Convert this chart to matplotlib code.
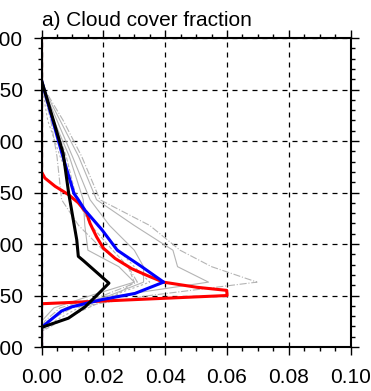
import matplotlib
matplotlib.use("Agg")
import matplotlib.pyplot as plt
from matplotlib.ticker import MultipleLocator

plt.rcParams['font.family'] = ['Liberation Sans', 'DejaVu Sans']

# pressure levels (hPa) and cloud cover fraction for each profile
obs_p = [715, 741, 812, 851, 896, 912, 916, 938, 945, 961, 972, 981, 1000]
obs_cc = [0.0, 0.0, 0.0070, 0.0088, 0.0114, 0.0119, 0.0135, 0.0218, 0.0195, 0.0141, 0.0087, 0.0, 0.0]

blue_p = [741, 812, 851, 857, 867, 886, 906, 922, 937, 948, 954, 961, 965, 981, 1000]
blue_cc = [0.0, 0.0066, 0.0105, 0.0119, 0.0140, 0.0195, 0.0245, 0.0324, 0.0395, 0.0302, 0.0195, 0.0098, 0.0065, 0.0, 0.0]

red_p = [700, 830, 836, 844, 852, 860, 870, 880, 893, 904, 914, 924, 931, 937, 942, 945, 950, 958, 1000]
red_cc = [0.0, 0.0, 0.0011, 0.0044, 0.0087, 0.0119, 0.0146, 0.0157, 0.0178, 0.0200, 0.0238, 0.0292, 0.0345, 0.0394, 0.0502, 0.0599, 0.0600, 0.0, 0.0]

gray_p = [700, 745, 780, 815, 857, 882, 906, 922, 937, 950, 962, 975, 985, 1000]
gray_members = [
    ([0, 0, 0.005, 0.010, 0.0157, 0.022, 0.030, 0.033, 0.033, 0.022, 0.008, 0.002, 0, 0], '-'),
    ([0, 0, 0.003, 0.005, 0.0065, 0.012, 0.020, 0.028, 0.031, 0.020, 0.006, 0.001, 0, 0], '-.'),
    ([0, 0, 0.004, 0.008, 0.0114, 0.016, 0.023, 0.028, 0.030, 0.024, 0.015, 0.006, 0, 0], '--'),
    ([0, 0, 0.006, 0.012, 0.0178, 0.030, 0.0425, 0.044, 0.054, 0.025, 0.008, 0.002, 0, 0], '-'),
    ([0, 0, 0.007, 0.013, 0.0189, 0.035, 0.0448, 0.055, 0.0697, 0.035, 0.010, 0.002, 0, 0], '-.'),
    ([0, 0, 0.002, 0.006, 0.012, 0.018, 0.025, 0.030, 0.035, 0.023, 0.012, 0.004, 0, 0], (0, (2, 2))),
    ([0, 0, 0.004, 0.009, 0.0135, 0.014, 0.015, 0.025, 0.030, 0.016, 0.004, 0, 0, 0], '-'),
]

fig = plt.figure(figsize=(3.71, 3.91), dpi=100)
ax = fig.add_axes([0.1119, 0.1125, 0.8334, 0.7903])

for cc, ls in gray_members:
    ax.plot(cc, gray_p, color='#b4b4b4', lw=0.8, ls=ls, zorder=2)

ax.plot(red_cc, red_p, color='red', lw=2.2, zorder=3)
ax.plot(blue_cc, blue_p, color='blue', lw=2.2, zorder=4)
ax.plot(obs_cc, obs_p, color='black', lw=2.2, zorder=5)

ax.set_xlim(0, 0.1)
ax.set_ylim(1000, 700)
ax.xaxis.set_major_locator(MultipleLocator(0.02))
ax.xaxis.set_minor_locator(MultipleLocator(0.005))
ax.yaxis.set_major_locator(MultipleLocator(50))
ax.yaxis.set_minor_locator(MultipleLocator(10))
ax.xaxis.set_major_formatter(matplotlib.ticker.FormatStrFormatter('%.2f'))

ax.grid(True, which='major', color='black', ls=(0, (4, 4)), lw=0.9)
ax.tick_params(which='both', direction='out', top=True, right=True, width=1.0)
ax.tick_params(which='major', length=6, labelsize=15)
ax.tick_params(which='minor', length=3)
ax.tick_params(axis='x', pad=9)
ax.tick_params(axis='y', pad=7)
for s in ax.spines.values():
    s.set_linewidth(1.5)
    s.set_zorder(6)

ax.set_title('a) Cloud cover fraction', loc='left', fontsize=15, pad=9)

fig.savefig('out.png', dpi=100)
